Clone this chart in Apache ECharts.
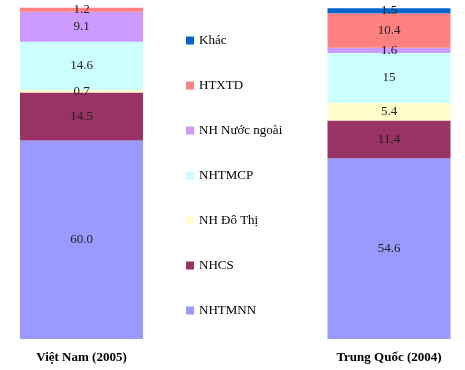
<!DOCTYPE html>
<html><head><meta charset="utf-8">
<script src="https://cdn.jsdelivr.net/npm/echarts@6/dist/echarts.min.js"></script>
<style>html,body{margin:0;padding:0;background:#fff}#c{width:465px;height:370px}</style>
</head><body><div id="c"></div>
<script>
const categories = ['Việt Nam (2005)', 'Trung Quốc (2004)'];
const seriesNames = ['NHTMNN', 'NHCS', 'NH Đô Thị', 'NHTMCP', 'NH Nước ngoài', 'HTXTD', 'Khác'];
const NHTMNN = [60.0, 54.6];
const NHCS = [14.5, 11.4];
const NHDoThi = [0.7, 5.4];
const NHTMCP = [14.6, 15];
const NHNuocNgoai = [9.1, 1.6];
const HTXTD = [1.2, 10.4];
const Khac = [null, 1.5];
const labelText = [
  ['60.0', '54.6'], ['14.5', '11.4'], ['0.7', '5.4'], ['14.6', '15'], ['9.1', '1.6'], ['1.2', '10.4'], ['', '1.5']
];
const colors = ['#9999FF', '#993366', '#FFFFCC', '#CCFFFF', '#CC99FF', '#FF8080', '#0066CC'];
const values = [NHTMNN, NHCS, NHDoThi, NHTMCP, NHNuocNgoai, HTXTD, Khac];

const font = '"Liberation Serif", "Times New Roman", serif';
const chart = echarts.init(document.getElementById('c'), null, {renderer: 'canvas'});
chart.setOption({
  animation: false,
  grid: {left: 81.5, right: 76, top: 8, bottom: 31},
  xAxis: {
    type: 'category', data: categories, boundaryGap: false,
    axisLine: {show: false}, axisTick: {show: false}, splitLine: {show: false},
    axisLabel: {fontFamily: font, fontSize: 13, fontWeight: 'bold', color: '#000', margin: 12}
  },
  yAxis: {type: 'value', min: 0, max: 100, show: false},
  legend: {
    orient: 'vertical', left: 181, top: 28,
    data: seriesNames.slice().reverse(),
    icon: 'rect', itemWidth: 8, itemHeight: 8, itemGap: 30,
    textStyle: {fontFamily: font, fontSize: 13, color: '#000', lineHeight: 15}
  },
  series: seriesNames.map((name, i) => ({
    name, type: 'bar', stack: 'total', barWidth: 123, clip: false,
    itemStyle: {color: colors[i]},
    data: values[i],
    label: {
      show: true, position: 'inside', fontFamily: font, fontSize: 13, color: '#222',
      formatter: p => labelText[i][p.dataIndex]
    }
  }))
});
</script></body></html>
